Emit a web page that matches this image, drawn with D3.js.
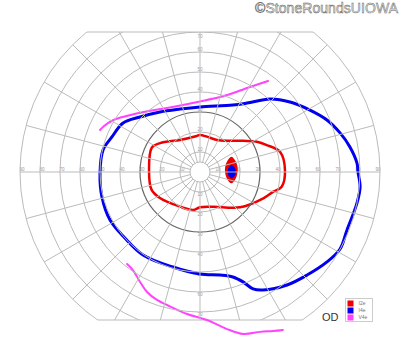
<!DOCTYPE html>
<html>
<head>
<meta charset="utf-8">
<script src="https://cdn.jsdelivr.net/npm/d3@7"></script>
<style>
body { margin: 0; background: #fff; }
text { font-family: "Liberation Sans", Arial, sans-serif; }
</style>
</head>
<body>
<svg width="400" height="352"></svg>
<script>
// grid
var rings = [10, 20, 30, 40, 50, 60, 70, 80, 90];
var meridians = [0, 15, 30, 45, 60, 75, 90, 105, 120, 135, 150, 165, 180, 195, 210, 225, 240, 255, 270, 285, 300, 315, 330, 345];
var hLabels = [10, 20, 30, 40, 50, 60, 70, 80, 90];
var vLabels = [10, 20, 30, 40, 50, 60, 70];

// isopters, [meridian deg, eccentricity deg]
var isoI2e = [[1,42.5],[14,41.3],[22,36],[28,32.2],[38,25.4],[46,21.7],[62,18.1],[79,18],[90,18.5],[95,18.1],[122,18.9],[144,24.6],[153,27],[178,25.5],[200,25.8],[213,23.9],[240,20],[260,19.3],[270,17.6],[291,18.6],[318.6,26.7],[337.4,34.3],[345,38],[349.8,41.5]];
var isoI4e = [[0,79],[3.3,78.6],[9.5,76],[15.6,72.7],[22.3,68.6],[29.4,63.1],[37.9,57],[46.2,50.6],[55.7,41.7],[63.8,37.3],[90,32.5],[107.6,33],[123.7,36.1],[137.5,40.7],[147.5,45.6],[158.3,47.4],[167.2,49.7],[180.6,50],[194.3,50.6],[208.1,51],[221.3,50],[235.5,50.3],[254.1,49.4],[270,51],[281,52.5],[287.4,55],[291.4,59],[294.4,64.2],[298.1,66.9],[307.6,71.3],[316.1,74.3],[324.7,77.8],[331.2,79.9],[338.5,79],[348.8,80],[354.6,80.4]];
var isoV4eUpper = [[53.2,56.8],[59.5,49.3],[67.3,42.8],[75.1,38.8],[90,35.3],[117.3,36],[132.4,40.8],[149,50.5],[154.9,53.4],[157.2,54.2]];
var isoV4eLower = [[231.6,58.7],[235.6,59.4],[241.4,62.6],[246.2,65.6],[251.4,67.5],[256.1,68.5],[264.8,71.3],[272.7,74.1],[279.8,79.7],[284.9,83.8],[290.6,85.4],[294.7,87.5],[297.7,89.2]];
// blind spot
var spotI2e = [[26,17.5],[15.5,18.7],[3,18.9],[-11.1,18.1],[-19.8,16.7],[-14.4,14.0],[4.6,12.5],[20.5,14.3]];
var spotI4e = [[12.5,16.2],[7.9,17.5],[0.5,17.85],[-7.2,17.4],[-11.2,16.2],[-8.7,14.6],[0.7,13.85],[9.5,14.6]];

var legendNames = ["I2e", "I4e", "V4e"];
var legendColors = ["#ee0000", "#0000ee", "#ff44ff"];

var svg = d3.select("svg");
var cx = 200, cy = 172;
var topDeg = 70, bottomDeg = 74;

var r = d3.scaleLinear().domain([0, 90]).range([0, 180]);
var color = d3.scaleOrdinal().domain(legendNames).range(legendColors);
var rad = d => (90 - d) * Math.PI / 180;

svg.append("clipPath").attr("id", "clip")
    .append("rect")
    .attr("x", 0).attr("y", cy - r(topDeg))
    .attr("width", 400).attr("height", r(topDeg) + r(bottomDeg));

var g = svg.append("g").attr("transform", "translate(" + cx + "," + cy + ")");
var grid = svg.append("g").attr("clip-path", "url(#clip)")
    .append("g").attr("transform", "translate(" + cx + "," + cy + ")");

grid.selectAll("circle.ring")
    .data([5].concat(rings))
    .join("circle")
    .attr("class", "ring")
    .attr("r", d => r(d))
    .attr("fill", "none")
    .attr("stroke", d => d == 30 ? "#666" : "#bbb")
    .attr("stroke-width", d => d == 30 ? 1.2 : 1);

grid.selectAll("line.spoke")
    .data(meridians)
    .join("line")
    .attr("class", "spoke")
    .attr("x1", d => r(5) * Math.cos(d * Math.PI / 180))
    .attr("y1", d => -r(5) * Math.sin(d * Math.PI / 180))
    .attr("x2", d => r(90) * Math.cos(d * Math.PI / 180))
    .attr("y2", d => -r(90) * Math.sin(d * Math.PI / 180))
    .attr("stroke", "#bbb");

// flat top and bottom edges
[-r(topDeg), r(bottomDeg)].forEach(y => {
    var w = Math.sqrt(r(90) * r(90) - y * y);
    g.append("line")
        .attr("x1", -w).attr("x2", w)
        .attr("y1", y).attr("y2", y)
        .attr("stroke", "#bbb");
});

var lab = g.append("g")
    .attr("font-size", 4.5)
    .attr("fill", "#999")
    .attr("text-anchor", "middle");

lab.selectAll("text.hl")
    .data(hLabels.map(d => [d, -1]).concat(hLabels.map(d => [d, 1])))
    .join("text")
    .attr("x", d => d[1] * (r(d[0]) - 2))
    .attr("y", -1)
    .text(d => d[0]);

lab.selectAll("text.vl")
    .data(vLabels.map(d => [d, -1]).concat(vLabels.map(d => [d, 1])))
    .join("text")
    .attr("x", 0)
    .attr("y", d => d[1] < 0 ? Math.max(-(r(d[0]) + 3), -r(topDeg) + 4) + 1.5 : r(d[0]) + 2 + 1.5)
    .text(d => d[0]);

var closedLine = d3.lineRadial()
    .angle(d => rad(d[0]))
    .radius(d => r(d[1]))
    .curve(d3.curveCatmullRomClosed);

var openLine = d3.lineRadial()
    .angle(d => rad(d[0]))
    .radius(d => r(d[1]))
    .curve(d3.curveCatmullRom);

g.append("path").datum(spotI2e).attr("d", closedLine).attr("fill", color("I2e"));
g.append("path").datum(spotI4e).attr("d", closedLine).attr("fill", color("I4e"));

g.append("path").datum(isoI2e).attr("d", closedLine)
    .attr("fill", "none").attr("stroke", color("I2e")).attr("stroke-width", 2.5);
g.append("path").datum(isoI4e).attr("d", closedLine)
    .attr("fill", "none").attr("stroke", color("I4e")).attr("stroke-width", 3);
[isoV4eUpper, isoV4eLower].forEach(seg => {
    g.append("path").datum(seg).attr("d", openLine)
        .attr("fill", "none").attr("stroke", color("V4e"))
        .attr("stroke-width", 2).attr("stroke-linecap", "round");
});

// legend
var leg = svg.append("g").attr("transform", "translate(345.5,298.5)");
leg.append("rect").attr("width", 27).attr("height", 23)
    .attr("fill", "#fff").attr("stroke", "#ccc");
var item = leg.selectAll("g.item")
    .data(legendNames)
    .join("g")
    .attr("transform", (d, i) => "translate(2," + (2 + i * 7) + ")");
item.append("rect").attr("width", 6).attr("height", 6).attr("fill", d => color(d));
item.append("text").attr("x", 11).attr("y", 4.8)
    .attr("font-size", 5).attr("fill", "#777").text(d => d);

svg.append("text")
    .attr("x", 322).attr("y", 321)
    .attr("font-size", 11).attr("fill", "#333")
    .text("OD");

svg.append("text")
    .attr("x", 398).attr("y", 13)
    .attr("text-anchor", "end")
    .attr("font-size", 14)
    .attr("textLength", 143)
    .attr("fill", "#eee").attr("stroke", "#666").attr("stroke-width", 0.5)
    .text("\u00a9StoneRoundsUIOWA");
</script>
</body>
</html>
